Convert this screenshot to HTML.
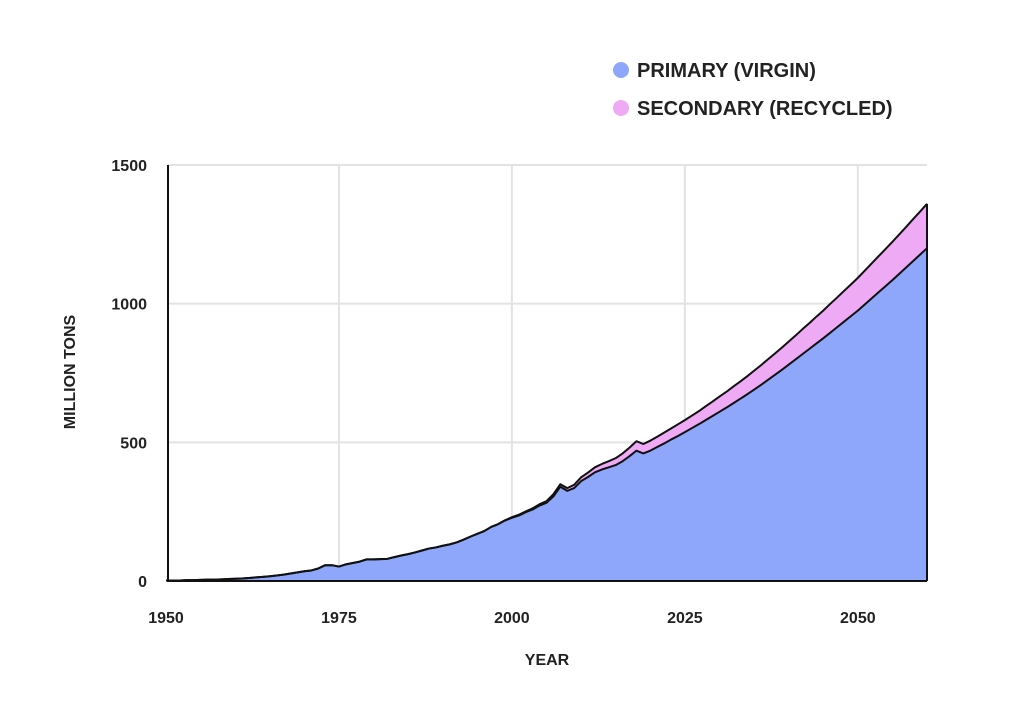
<!DOCTYPE html>
<html><head><meta charset="utf-8"><style>
body{margin:0;background:#fff;}
svg{display:block;font-family:"Liberation Sans",sans-serif;}
</style></head><body>
<svg id="c" width="1024" height="717" viewBox="0 0 1024 717"></svg>
<script>
const startYear = 1950;
const primary = [2,2,2,3,3,4,5,5,6,7,8,9,11,13,15,17,20,23,27,31,35,38,45,57,57,52,60,65,70,78,78,79,80,86,92,97,103,110,117,121,127,132,139,149,160,170,180,195,205,218,
228,236,248,258,272,282,305,340,325,335,360,375,392,402,410,418,432,450,470,460,
470,483,496,510,523,537,551,565,580,595,610,625,641,657,673,690,707,725,743,761,780,799,818,837,856,875,895,915,935,955,975,997,1019,1041,1063,1085,1108,1131,1154,1177,1200];
const secondary = [0,0,0,0,0,0,0,0,0,0,0,0,0,0,0,0,0,0,0,0,0,0,0,0,0,0,0,0,0,0,0,0,0,0,0,0,0,0,0,0,0,0,0,0,0,0,0,0,0,1,
2,3,3,4,5,6,8,9,10,12,14,16,18,20,22,25,28,31,34,34,
36,37,39,40,42,43,45,47,50,52,55,57,60,62,65,68,71,74,77,80,83,86,90,93,97,100,104,107,111,114,118,122,126,130,134,138,142,146,151,155,160];
const xTicks = [1950,1975,2000,2025,2050];
const yTicks = [0,500,1000,1500];

const svg = document.getElementById('c');
const NS = 'http://www.w3.org/2000/svg';
const X = y => 166 + (y - 1950) * (927 - 166) / 110;
const Y = v => 581 - v * (581 - 165) / 1500;
function mk(tag, attrs, parent){const e=document.createElementNS(NS,tag);for(const k in attrs)e.setAttribute(k,attrs[k]);(parent||svg).appendChild(e);return e;}

xTicks.slice(1).forEach(t=>{
  const l=mk('line',{x1:X(t),x2:X(t),y1:165,y2:581,stroke:'#e3e3e3','stroke-width':2});
  
  
});
yTicks.slice(1).forEach(t=>{
  const l=mk('line',{x1:168,x2:927,y1:Y(t),y2:Y(t),stroke:'#e3e3e3','stroke-width':2});
  
  
});

const n = primary.length;
const years = primary.map((_,i)=>startYear+i);
const totals = primary.map((p,i)=>p+secondary[i]);
const pPts = years.map((yr,i)=>X(yr)+','+Y(primary[i]));
const tPts = years.map((yr,i)=>X(yr)+','+Y(totals[i]));

const sec = mk('polygon',{points:tPts.join(' ')+' '+pPts.slice().reverse().join(' '),fill:'#eeaaf5'});


const pri = mk('polygon',{points:X(years[0])+','+Y(0)+' '+pPts.join(' ')+' '+X(years[n-1])+','+Y(0),fill:'#8fa7fa'});


const pl = mk('polyline',{points:pPts.join(' '),fill:'none',stroke:'#111','stroke-width':2,'stroke-linejoin':'round'});


const tl = mk('polyline',{points:tPts.join(' '),fill:'none',stroke:'#111','stroke-width':2,'stroke-linejoin':'round'});


const rl = mk('line',{x1:X(years[n-1]),x2:X(years[n-1]),y1:Y(totals[n-1]),y2:581,stroke:'#111','stroke-width':2});



const ax = mk('path',{d:'M168 165 V581 H927',fill:'none',stroke:'#111','stroke-width':2});



yTicks.forEach(t=>{
  const e=mk('text',{x:147,y:Y(t)+6,'text-anchor':'end','font-size':16,'font-weight':'bold',fill:'#222'});
  e.textContent=t;
  
  
});
xTicks.forEach(t=>{
  const e=mk('text',{x:X(t),y:623,'text-anchor':'middle','font-size':16,'font-weight':'bold',fill:'#222'});
  e.textContent=t;
  
  
});
</script>
<svg style="position:absolute;left:0;top:0" width="1024" height="717">
<text x="547" y="665" text-anchor="middle" font-size="16" font-weight="bold" fill="#222" font-family="Liberation Sans,sans-serif">YEAR</text>
<text transform="translate(75,372) rotate(-90)" text-anchor="middle" font-size="16" font-weight="bold" fill="#222" font-family="Liberation Sans,sans-serif">MILLION TONS</text>
<g>
<circle cx="621" cy="70" r="8" fill="#8fa7fa"/>
<text x="637" y="77" font-size="20" font-weight="bold" fill="#222" font-family="Liberation Sans,sans-serif">PRIMARY (VIRGIN)</text>
</g>
<g>
<circle cx="621" cy="108" r="8" fill="#eeaaf5"/>
<text x="637" y="115" font-size="20" font-weight="bold" fill="#222" font-family="Liberation Sans,sans-serif">SECONDARY (RECYCLED)</text>
</g>
</svg>
</body></html>
